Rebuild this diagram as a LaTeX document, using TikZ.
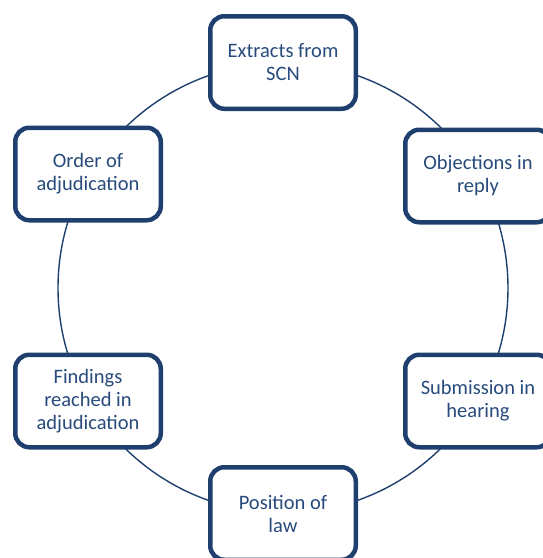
\documentclass[tikz,border=0pt]{standalone}
\usepackage{fontspec}
\setmainfont{Carlito}
\definecolor{boxblue}{HTML}{1F406F}
\definecolor{txtblue}{HTML}{284B7C}
\begin{document}
\begin{tikzpicture}[x=1pt,y=-1pt,
  stagebox/.style={draw=boxblue, line width=4.5pt, fill=white, rounded corners=14pt,
    minimum width=145.5pt, minimum height=92.5pt, align=center, text=txtblue,
    font=\fontsize{20.5}{23}\selectfont, inner sep=2pt},
  ring/.style={draw=boxblue, line width=1.4pt}]
\useasboundingbox (0,0) rectangle (543,558);
\clip (0,0) rectangle (543,558);
\coordinate (c) at (283,288);
\draw[ring] (c) circle[radius=225pt];
\node[stagebox] (a) at (283,62.5) {Extracts from\\SCN};
\node[stagebox] (b) at (478,176) {Objections in\\reply};
\node[stagebox] (d) at (478,401) {Submission in\\hearing};
\node[stagebox] (e) at (283,513.5) {Position of\\law};
\node[stagebox] (f) at (88,401) {Findings\\reached in\\adjudication};
\node[stagebox] (g) at (88,174) {Order of\\adjudication};
\end{tikzpicture}
\end{document}
